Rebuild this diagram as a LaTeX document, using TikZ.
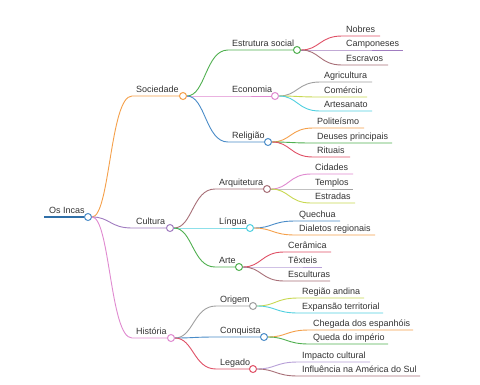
\documentclass[tikz,border=0pt]{standalone}
\usepackage{fontspec}
\setmainfont{Liberation Sans}
\usetikzlibrary{calc}
\definecolor{cblue}{HTML}{4A8CC8}
\definecolor{cdblue}{HTML}{2F6FA8}
\definecolor{corange}{HTML}{F5A04A}
\definecolor{cpurple}{HTML}{A07CC0}
\definecolor{cpink}{HTML}{E08AD0}
\definecolor{cgreen}{HTML}{50B050}
\definecolor{cred}{HTML}{E05066}
\definecolor{cgrey}{HTML}{A0A0A0}
\definecolor{cyg}{HTML}{C8D850}
\definecolor{ccyan}{HTML}{50D0E0}
\definecolor{cbrown}{HTML}{A87078}
\definecolor{clav}{HTML}{B8A0D8}
\definecolor{ctext}{HTML}{333333}
\tikzset{
  conn/.style={line width=0.9pt},
  dot/.style={circle,draw,fill=white,line width=1pt,minimum size=7pt,inner sep=0pt},
  lbl/.style={font=\fontsize{9}{10}\selectfont,text=ctext,inner sep=0pt},
}
% #1 name, #2 parent, #3 start x, #4 y, #5 end x, #6 colour, #7 text
\newcommand{\mmleaf}[7]{%
  \coordinate (#1s) at (#3,#4);
  \coordinate (#1e) at (#5,#4);
  \coordinate (#1m) at ($(#2)!0.5!(#1s)$);
  \draw[conn,#6] (#2) .. controls (#1m |- #2) and (#1m |- #1s) .. (#1s) -- (#1e);
  \node[lbl,anchor=base west] (#1t) at ([xshift=4pt,yshift=3.6pt]#1s) {#7};
}
\newcommand{\mmbranch}[7]{%
  \coordinate (#1s) at (#3,#4);
  \coordinate (#1m) at ($(#2)!0.5!(#1s)$);
  \draw[conn,#6] (#2) .. controls (#1m |- #2) and (#1m |- #1s) .. (#1s) -- (#5,#4);
  \node[lbl,anchor=base west] (#1t) at ([xshift=4pt,yshift=3.6pt]#1s) {#7};
  \node[dot,draw=#6] (#1) at (#5,#4) {};
}
\begin{document}
\begin{tikzpicture}[x=1pt,y=-1pt]
\useasboundingbox[fill=white] (0,0) rectangle (480,384);
% root
\coordinate (rs) at (44,217);
\draw[line width=1.8pt,cdblue] (rs) -- (88,217);
\node[lbl,anchor=base west] (rt) at (49,213.4) {Os Incas};
\node[dot,draw=cblue] (root) at (88,217) {};
% level 1
\mmbranch{soc}{root}{132}{96}{183}{corange}{Sociedade}
\mmbranch{cul}{root}{132}{228}{170}{cpurple}{Cultura}
\mmbranch{his}{root}{132}{338}{171}{cpink}{História}
% Sociedade
\mmbranch{est}{soc}{228}{50}{297}{cgreen}{Estrutura social}
\mmbranch{eco}{soc}{228}{96}{275}{cpink}{Economia}
\mmbranch{rel}{soc}{228}{142}{268}{cblue}{Religião}
\mmleaf{nob}{est}{342}{36}{380}{cred}{Nobres}
\mmleaf{cam}{est}{342}{50}{403}{cpurple}{Camponeses}
\mmleaf{esc}{est}{342}{65}{388}{cbrown}{Escravos}
\mmleaf{agr}{eco}{320}{82}{372}{cgrey}{Agricultura}
\mmleaf{com}{eco}{320}{97}{367}{cyg}{Comércio}
\mmleaf{art}{eco}{320}{111}{372}{ccyan}{Artesanato}
\mmleaf{pol}{rel}{313}{128}{364}{corange}{Politeísmo}
\mmleaf{deu}{rel}{313}{143}{392}{cgreen}{Deuses principais}
\mmleaf{rit}{rel}{313}{157}{350}{cred}{Rituais}
% Cultura
\mmbranch{arq}{cul}{215}{189}{267}{cbrown}{Arquitetura}
\mmbranch{lin}{cul}{215}{228}{250}{ccyan}{Língua}
\mmbranch{are}{cul}{215}{267}{239}{cgreen}{Arte}
\mmleaf{cid}{arq}{311}{174}{353}{cpink}{Cidades}
\mmleaf{tem}{arq}{311}{189}{353}{cgrey}{Templos}
\mmleaf{etr}{arq}{311}{203}{355}{cyg}{Estradas}
\mmleaf{que}{lin}{295}{221}{340}{cblue}{Quechua}
\mmleaf{dia}{lin}{295}{235}{375}{corange}{Dialetos regionais}
\mmleaf{cer}{are}{284}{252}{331}{cred}{Cerâmica}
\mmleaf{tex}{are}{284}{267}{322}{clav}{Têxteis}
\mmleaf{scu}{are}{284}{281}{330}{cbrown}{Esculturas}
% História
\mmbranch{ori}{his}{216}{306}{253}{cgrey}{Origem}
\mmbranch{con}{his}{216}{337}{264}{cblue}{Conquista}
\mmbranch{leg}{his}{216}{369}{253}{cred}{Legado}
\mmleaf{reg}{ori}{298}{298}{364}{cyg}{Região andina}
\mmleaf{exp}{ori}{298}{313}{383}{ccyan}{Expansão territorial}
\mmleaf{che}{con}{309}{330}{413}{corange}{Chegada dos espanhóis}
\mmleaf{qim}{con}{309}{344}{388}{cgreen}{Queda do império}
\mmleaf{imp}{leg}{298}{362}{370}{clav}{Impacto cultural}
\mmleaf{inf}{leg}{298}{376}{420}{cbrown}{Influência na América do Sul}
\end{tikzpicture}
\end{document}
